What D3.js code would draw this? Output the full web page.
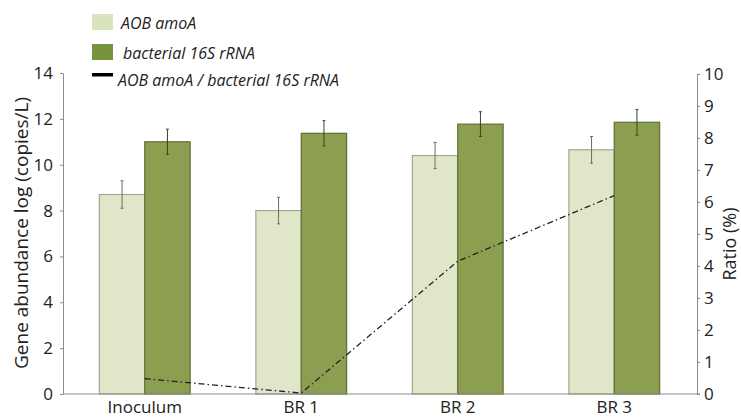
<!DOCTYPE html>
<html><head><meta charset="utf-8">
<script src="https://cdn.jsdelivr.net/npm/d3@7"></script>
<style>body{margin:0;background:#fff}svg{display:block}</style>
</head><body>
<svg id="c" width="741" height="419"></svg>
<script>
const categories = ["Inoculum", "BR 1", "BR 2", "BR 3"];
const amoA = [8.7, 8.0, 10.4, 10.65];
const amoAErr = [0.6, 0.58, 0.57, 0.58];
const rRNA = [11.0, 11.37, 11.77, 11.85];
const rRNAErr = [0.55, 0.55, 0.54, 0.56];
const ratio = [0.48, 0.03, 4.15, 6.2];
const leftTicks = [0, 2, 4, 6, 8, 10, 12, 14];
const rightTicks = [0, 1, 2, 3, 4, 5, 6, 7, 8, 9, 10];
const seriesNames = ["AOB amoA", "bacterial 16S rRNA", "AOB amoA / bacterial 16S rRNA"];

const svg = d3.select("#c");
const font = "'Open Sans', sans-serif";
const x = d3.scaleBand().domain(categories).range([66.5, 692.5]).paddingInner(0.42).paddingOuter(0.21);
const yL = d3.scaleLinear().domain([0, 14]).range([394, 73]);
const yR = d3.scaleLinear().domain([0, 10]).range([394, 74]);
const sub = d3.scaleBand().domain([0, 1]).range([0, x.bandwidth()]);

// axes
const axisColor = "#8c8c8c";
const gL = svg.append("g").attr("transform", "translate(63,0)")
  .call(d3.axisLeft(yL).tickValues(leftTicks).tickSize(3).tickSizeOuter(0));
const gR = svg.append("g").attr("transform", "translate(697,0)")
  .call(d3.axisRight(yR).tickValues(rightTicks).tickSize(3).tickSizeOuter(0));
[gL, gR].forEach(g => {
  g.select(".domain").attr("stroke", axisColor);
  g.selectAll(".tick line").attr("stroke", axisColor);
  g.selectAll(".tick text").attr("font-family", font).attr("font-size", 17).attr("fill", "#222");
});
gL.selectAll(".tick text").attr("x", -10);
gR.selectAll(".tick text").attr("x", 7);

// bars
const groups = svg.append("g").selectAll("g").data(categories).join("g")
  .attr("transform", d => `translate(${x(d)},0)`);
groups.append("rect").attr("x", sub(0)).attr("width", sub.bandwidth())
  .attr("y", (d, i) => yL(amoA[i])).attr("height", (d, i) => yL(0) - yL(amoA[i]))
  .attr("fill", "#e0e7c9").attr("stroke", "#a3a896").attr("stroke-width", 1.2);
groups.append("rect").attr("x", sub(1)).attr("width", sub.bandwidth())
  .attr("y", (d, i) => yL(rRNA[i])).attr("height", (d, i) => yL(0) - yL(rRNA[i]))
  .attr("fill", "#8c9f50").attr("stroke", "#5f6e35").attr("stroke-width", 1.2);

// error bars
function err(vals, errs, off, col) {
  groups.each(function (d, i) {
    const g = d3.select(this);
    const cx = sub(off) + sub.bandwidth() / 2;
    g.append("line").attr("x1", cx).attr("x2", cx)
      .attr("y1", yL(vals[i] + errs[i])).attr("y2", yL(vals[i] - errs[i]))
      .attr("stroke", col).attr("stroke-width", 1);
    [vals[i] + errs[i], vals[i] - errs[i]].forEach(v => {
      g.append("line").attr("x1", cx - 1.5).attr("x2", cx + 1.5).attr("y1", yL(v)).attr("y2", yL(v))
        .attr("stroke", col).attr("stroke-width", 1);
    });
  });
}
err(amoA, amoAErr, 0, "#6a6a6a");
err(rRNA, rRNAErr, 1, "#3a4420");

// x axis line
svg.append("line").attr("x1", 63).attr("x2", 700).attr("y1", 394).attr("y2", 394)
  .attr("stroke", axisColor).attr("stroke-width", 1.2);
svg.append("g").selectAll("text").data(categories).join("text")
  .attr("x", d => x(d) + x.bandwidth() / 2).attr("y", 413)
  .attr("text-anchor", "middle").attr("font-family", font).attr("font-size", 17).attr("fill", "#222")
  .text(d => d);

// ratio line
const line = d3.line().x((d, i) => x(categories[i]) + x.bandwidth() / 2).y(d => yR(d));
svg.append("path").datum(ratio).attr("d", line).attr("fill", "none")
  .attr("stroke", "#222").attr("stroke-width", 1.3).attr("stroke-dasharray", "6,3,1.5,3");

// axis titles
svg.append("text").attr("transform", "translate(28,233) rotate(-90)").attr("text-anchor", "middle")
  .attr("font-family", font).attr("font-size", 19).attr("fill", "#222").text("Gene abundance log (copies/L)");
svg.append("text").attr("transform", "translate(736,244) rotate(-90)").attr("text-anchor", "middle")
  .attr("font-family", font).attr("font-size", 18).attr("fill", "#222").text("Ratio (%)");

// legend
const lg = svg.append("g");
lg.append("rect").attr("x", 92).attr("y", 14).attr("width", 21).attr("height", 16).attr("fill", "#d7e4bd");
lg.append("rect").attr("x", 92).attr("y", 44).attr("width", 21).attr("height", 16).attr("fill", "#77933c");
lg.append("rect").attr("x", 92).attr("y", 73).attr("width", 21).attr("height", 3.5).attr("fill", "#000");
[[121, 29], [123, 59], [118, 86]].forEach((p, i) => {
  lg.append("text").attr("x", p[0]).attr("y", p[1]).attr("font-family", font).attr("font-style", "italic")
    .attr("font-size", 16).attr("fill", "#222").text(seriesNames[i]);
});
</script>
</body></html>
